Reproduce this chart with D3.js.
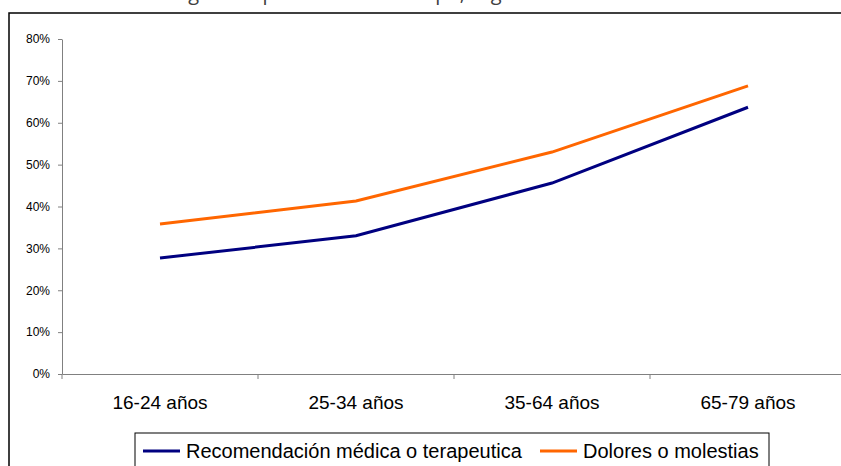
<!DOCTYPE html>
<html lang="es">
<head>
<meta charset="UTF-8">
<title>Motivos por grupo de edad</title>
<script src="https://cdn.jsdelivr.net/npm/d3@7"></script>
<style>
    body { margin: 0; background: #fff; }
    text { font-family: "Liberation Sans", Arial, sans-serif; fill: #000; }
    .title { font-family: "Open Sans", sans-serif; fill: #404040; }
    .axis path, .axis line { stroke: #808080; stroke-width: 1; }
</style>
</head>
<body>
<svg width="841" height="466"></svg>

<script>
    const titleText = "Población según el tipo de uso del tiempo, según edad";
    const grupos = ["16-24 años", "25-34 años", "35-64 años", "65-79 años"];
    const recomendacion = [0.277, 0.330, 0.456, 0.637];
    const dolores = [0.358, 0.413, 0.530, 0.688];
    const yTicks = [0, 0.1, 0.2, 0.3, 0.4, 0.5, 0.6, 0.7, 0.8];
    const series = [
        { name: "Recomendación médica o terapeutica", values: recomendacion, color: "#000080" },
        { name: "Dolores o molestias", values: dolores, color: "#FF6600" }
    ];

    const svg = d3.select("svg");

    // title sits mostly above the visible area, only descenders show
    svg.append("text").attr("class", "title")
        .attr("x", 71).attr("y", 0)
        .style("font-size", "20px")
        .text(titleText);

    // outer chart frame
    svg.append("rect")
        .attr("x", 9).attr("y", 13)
        .attr("width", 900).attr("height", 500)
        .attr("fill", "none").attr("stroke", "#000").attr("stroke-width", 1.5);

    const x = d3.scaleBand().domain(grupos).range([62, 846]).padding(0);
    const y = d3.scaleLinear().domain([0, 0.8]).range([374, 39]);

    const yAxis = svg.append("g").attr("class", "axis")
        .attr("transform", "translate(62,0)")
        .call(d3.axisLeft(y).tickValues(yTicks).tickFormat(d3.format(".0%"))
            .tickSize(4).tickSizeOuter(0).tickPadding(8));
    yAxis.selectAll("text").style("font-size", "12px").attr("fill", "#000");

    const xAxis = svg.append("g").attr("class", "axis")
        .attr("transform", "translate(0,374)")
        .call(d3.axisBottom(x).tickSize(0).tickSizeOuter(0).tickPadding(22));
    xAxis.selectAll("text").style("font-size", "19px").attr("fill", "#000");

    // category boundary ticks
    svg.append("g").selectAll("line")
        .data(grupos)
        .join("line")
            .attr("x1", d => x(d)).attr("x2", d => x(d))
            .attr("y1", 374).attr("y2", 379)
            .attr("stroke", "#808080");

    const line = d3.line()
        .x((d, i) => x(grupos[i]) + x.bandwidth() / 2)
        .y(d => y(d));

    svg.selectAll("path.serie")
        .data(series)
        .join("path").attr("class", "serie")
            .attr("d", d => line(d.values))
            .attr("fill", "none")
            .attr("stroke", d => d.color)
            .attr("stroke-width", 3);

    // legend
    const legend = svg.append("g");
    legend.append("rect")
        .attr("x", 135).attr("y", 433)
        .attr("width", 634).attr("height", 60)
        .attr("fill", "#fff").attr("stroke", "#000").attr("stroke-width", 1);

    const legendX = [143, 540];
    const items = legend.selectAll("g.item")
        .data(series)
        .join("g").attr("class", "item")
            .attr("transform", (d, i) => `translate(${legendX[i]},451)`);
    items.append("line")
        .attr("x1", 0).attr("x2", 37)
        .attr("stroke", d => d.color).attr("stroke-width", 3);
    items.append("text")
        .attr("x", 43).attr("y", 7)
        .style("font-size", "20px")
        .text(d => d.name);
</script>
</body>
</html>
